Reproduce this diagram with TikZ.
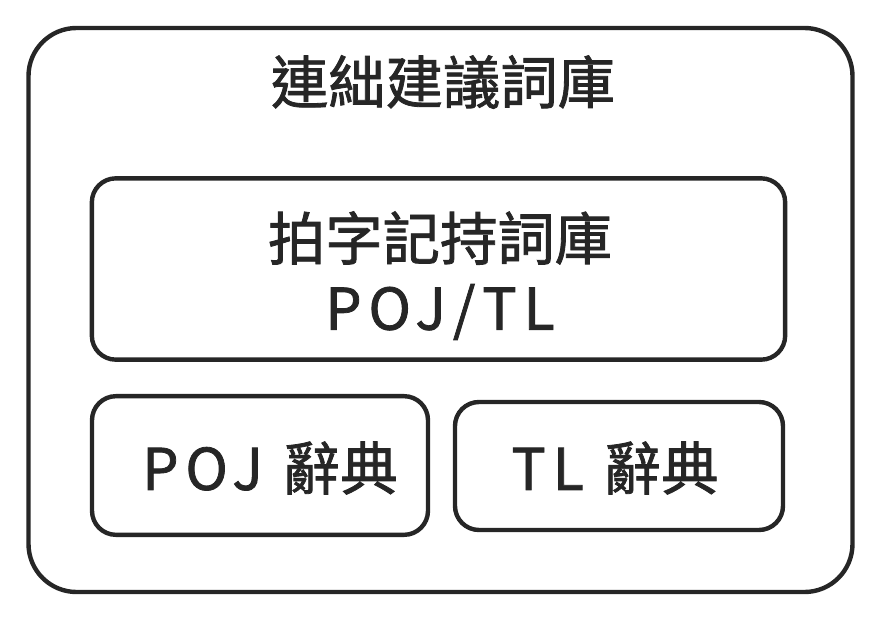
\documentclass[tikz,border=0pt]{standalone}
\usepackage{fontspec}
\setmainfont{Noto Sans CJK TC}[FakeBold=1.4]
\newcommand{\latinwide}[1]{{\addfontfeature{LetterSpace=12}#1}}
\usetikzlibrary{positioning}

\tikzset{
  sketchbox/.style={draw=black!85, line width=3.3pt, rounded corners=#1, inner sep=0pt},
  sketchbox/.default=18pt,
  label text/.style={font=\fontsize{43}{50}\selectfont, text=black!85, inner sep=0pt}
}

\begin{document}
\begin{tikzpicture}[x=0.75pt, y=-0.75pt]
  \useasboundingbox (0,0) rectangle (879,621);

  % outer frame
  \node[sketchbox=36pt, minimum width=618pt, minimum height=423pt] (lexicon) at (440.5,310) {};
  \node[label text] (lexiconname) at (443,82) {連絀建議詞庫};

  % upper box
  \node[sketchbox, minimum width=520pt, minimum height=136pt] (spelling) at (438.5,269) {};
  \node[label text] (spellingname) at (440,238) {拍字記持詞庫};
  \node[label text] (spellingsub) at (440,312) {\latinwide{POJ/TL}};

  % two dictionaries
  \node[sketchbox, minimum width=252pt, minimum height=104pt] (pojdict) at (260,465.5) {};
  \node[label text] at (270,468) (pojname) {\latinwide{POJ}\hspace{0.35em}辭典};

  \node[sketchbox, minimum width=246pt, minimum height=96pt] (tldict) at (619,466) {};
  \node[label text] at (615,468) (tlname) {\latinwide{TL}\hspace{0.35em}辭典};
\end{tikzpicture}
\end{document}
